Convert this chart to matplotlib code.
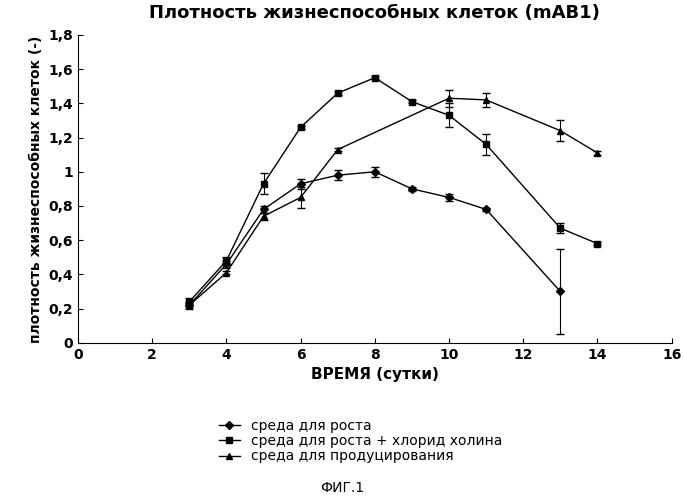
import matplotlib
matplotlib.use("Agg")
import matplotlib.pyplot as plt
from matplotlib.lines import Line2D

x1 = [3, 4, 5, 6, 7, 8, 9, 10, 11, 13]
y1 = [0.22, 0.46, 0.78, 0.93, 0.98, 1.0, 0.9, 0.85, 0.78, 0.3]
e1 = [0.02, 0.02, 0.02, 0.03, 0.03, 0.03, 0.01, 0.02, 0.01, 0.25]
x2 = [3, 4, 5, 6, 7, 8, 9, 10, 11, 13, 14]
y2 = [0.24, 0.48, 0.93, 1.26, 1.46, 1.55, 1.41, 1.33, 1.16, 0.67, 0.58]
e2 = [0.02, 0.02, 0.06, 0.01, 0.01, 0.01, 0.01, 0.07, 0.06, 0.03, 0.01]
x3 = [3, 4, 5, 6, 7, 10, 11, 13, 14]
y3 = [0.22, 0.41, 0.74, 0.85, 1.13, 1.43, 1.42, 1.24, 1.11]
e3 = [0.01, 0.01, 0.02, 0.06, 0.01, 0.05, 0.04, 0.06, 0.01]
labels = ["среда для роста", "среда для роста + хлорид холина", "среда для продуцирования"]

fig = plt.figure(figsize=(6.84, 4.99), dpi=100)
ax = fig.add_axes([0.114, 0.313, 0.868, 0.617])
kw = dict(color="black", lw=1, capsize=3, elinewidth=0.8, markersize=5)
ax.errorbar(x1, y1, yerr=e1, marker="D", markersize=4, color="black", lw=1, capsize=3, elinewidth=0.8)
ax.errorbar(x2, y2, yerr=e2, marker="s", **kw)
ax.errorbar(x3, y3, yerr=e3, marker="^", **kw)
ax.set_xlim(0, 16)
ax.set_ylim(0, 1.8)
ax.set_xticks(range(0, 17, 2))
ax.set_yticks([0, 0.2, 0.4, 0.6, 0.8, 1, 1.2, 1.4, 1.6, 1.8])
ax.set_yticklabels(["0", "0,2", "0,4", "0,6", "0,8", "1", "1,2", "1,4", "1,6", "1,8"])
for s in ["top", "right"]:
    ax.spines[s].set_visible(False)
ax.tick_params(labelsize=10, direction="in")
for t in ax.get_xticklabels() + ax.get_yticklabels():
    t.set_fontweight("bold")
ax.set_xlabel("ВРЕМЯ (сутки)", fontsize=11, fontweight="bold")
ax.set_ylabel("плотность жизнеспособных клеток (-)", fontsize=10, fontweight="bold")
ax.set_title("Плотность жизнеспособных клеток (mAB1)", fontsize=13, fontweight="bold", pad=12)
handles = [Line2D([], [], color="black", lw=1, marker=m, markersize=ms) for m, ms in [("D", 4), ("s", 5), ("^", 5)]]
fig.legend(handles, labels, loc="upper left", bbox_to_anchor=(0.31, 0.175), frameon=False,
           fontsize=10, handlelength=1.5, labelspacing=0.1, borderpad=0)
fig.text(0.5, 0.015, "ФИГ.1", ha="center", fontsize=10)
fig.savefig("out.png", dpi=100)
